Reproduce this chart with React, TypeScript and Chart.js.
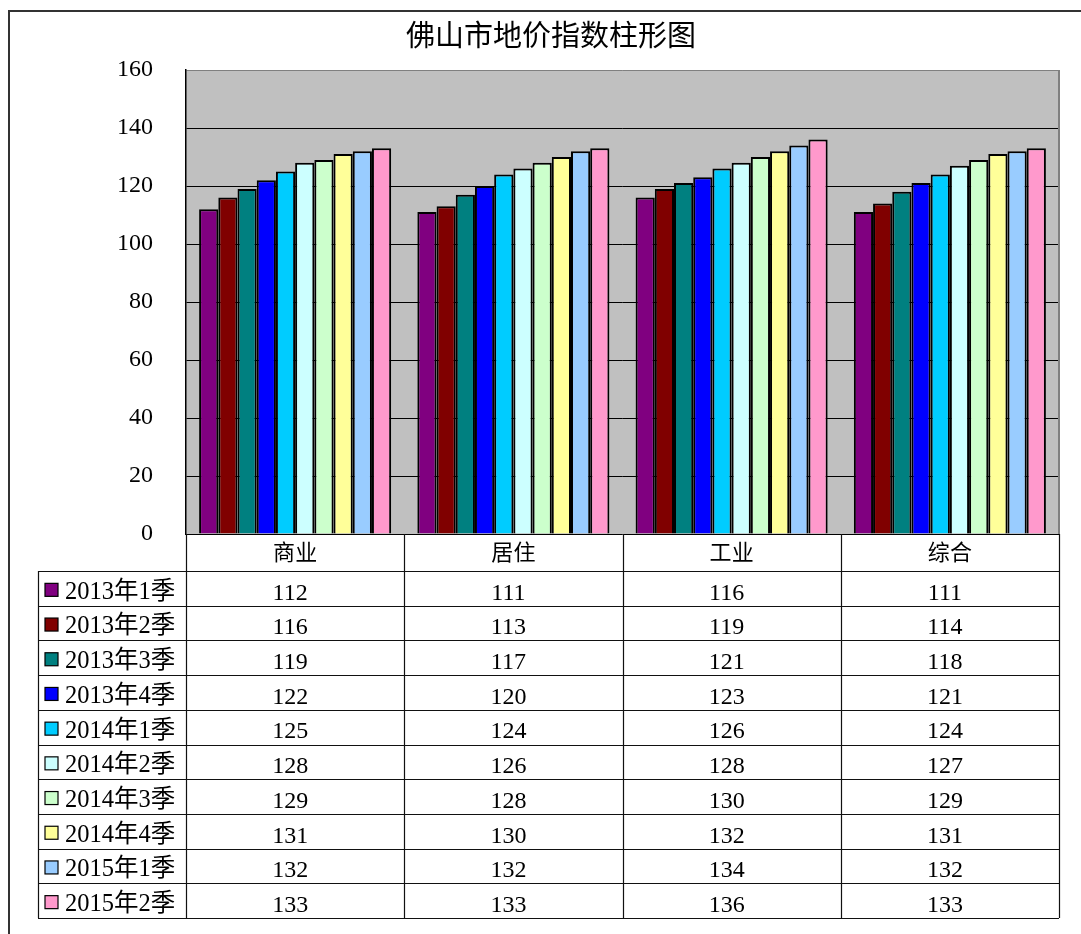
import { useEffect, useRef } from "react";
import { Chart, registerables } from "chart.js";

Chart.register(...registerables);

const title = "佛山市地价指数柱形图";
const categories = ["商业", "居住", "工业", "综合"];
const seriesNames = [
  "2013年1季",
  "2013年2季",
  "2013年3季",
  "2013年4季",
  "2014年1季",
  "2014年2季",
  "2014年3季",
  "2014年4季",
  "2015年1季",
  "2015年2季",
];
const q2013_1 = [112, 111, 116, 111];
const q2013_2 = [116, 113, 119, 114];
const q2013_3 = [119, 117, 121, 118];
const q2013_4 = [122, 120, 123, 121];
const q2014_1 = [125, 124, 126, 124];
const q2014_2 = [128, 126, 128, 127];
const q2014_3 = [129, 128, 130, 129];
const q2014_4 = [131, 130, 132, 131];
const q2015_1 = [132, 132, 134, 132];
const q2015_2 = [133, 133, 136, 133];
const seriesValues = [
  q2013_1, q2013_2, q2013_3, q2013_4, q2014_1,
  q2014_2, q2014_3, q2014_4, q2015_1, q2015_2,
];
const seriesColors = [
  "#800080", "#800000", "#008080", "#0000FF", "#00CCFF",
  "#CCFFFF", "#CCFFCC", "#FFFF99", "#99CCFF", "#FF99CC",
];
const yMin = 0;
const yMax = 160;
const yStep = 20;

const FONT = "'Liberation Serif', 'Noto Sans CJK SC', serif";

const tablePlugin = {
  id: "excelTable",
  beforeDraw(chart: any) {
    const { ctx, chartArea: ca } = chart;
    ctx.save();
    ctx.fillStyle = "#C0C0C0";
    ctx.fillRect(ca.left, ca.top, ca.right - ca.left, ca.bottom - ca.top);
    ctx.restore();
  },
  afterDraw(chart: any) {
    const { ctx, chartArea: ca } = chart;
    const xs = chart.scales.x;
    const n = categories.length;
    const catW = (ca.right - ca.left) / n;
    const headerTop = ca.bottom;
    const headerBottom = headerTop + 37;
    const rowH = 34.7;
    const tableLeft = 38;
    const rows = seriesNames.length;
    const tableBottom = headerBottom + rowH * rows;

    ctx.save();
    // title
    ctx.fillStyle = "#000";
    ctx.textAlign = "center";
    ctx.textBaseline = "middle";
    ctx.font = `29px ${FONT}`;
    ctx.fillText(title, 551, 38);

    // plot area right border
    ctx.strokeStyle = "#808080";
    ctx.lineWidth = 2;
    ctx.beginPath();
    ctx.moveTo(ca.right, ca.top);
    ctx.lineTo(ca.right, ca.bottom);
    ctx.stroke();

    // table lines
    ctx.strokeStyle = "#111";
    ctx.lineWidth = 1.2;
    ctx.beginPath();
    for (let r = 0; r <= rows; r++) {
      const y = Math.round(headerBottom + r * rowH) + 0.5;
      ctx.moveTo(tableLeft, y);
      ctx.lineTo(ca.right, y);
    }
    ctx.moveTo(tableLeft + 0.5, headerBottom);
    ctx.lineTo(tableLeft + 0.5, tableBottom);
    for (let i = 0; i <= n; i++) {
      const x = Math.round(ca.left + i * catW) + 0.5;
      ctx.moveTo(x, headerTop);
      ctx.lineTo(x, tableBottom);
    }
    ctx.stroke();

    ctx.fillStyle = "#000";
    ctx.textAlign = "center";
    ctx.font = `22px ${FONT}`;
    for (let i = 0; i < n; i++) {
      const cx = xs.getPixelForValue(i);
      ctx.fillText(categories[i], cx, (headerTop + headerBottom) / 2 + 2);
    }
    ctx.font = `24px ${FONT}`;
    for (let r = 0; r < rows; r++) {
      const cy = headerBottom + r * rowH + rowH / 2 + 5;
      for (let i = 0; i < n; i++) {
        const cx = xs.getPixelForValue(i) - 5;
        ctx.fillText(String(seriesValues[r][i]), cx, cy);
      }
    }
    // legend keys and labels
    ctx.textAlign = "left";
    ctx.font = `24.5px ${FONT}`;
    for (let r = 0; r < rows; r++) {
      const cy = headerBottom + r * rowH + rowH / 2;
      ctx.fillStyle = seriesColors[r];
      ctx.fillRect(45, cy - 5, 13, 13);
      ctx.strokeStyle = "#000";
      ctx.lineWidth = 1.2;
      ctx.strokeRect(45, cy - 5, 13, 13);
      ctx.fillStyle = "#000";
      ctx.fillText(seriesNames[r], 65, cy + 4);
    }

    // outer frame
    ctx.strokeStyle = "#333";
    ctx.lineWidth = 2;
    ctx.beginPath();
    ctx.moveTo(9, chart.height);
    ctx.lineTo(9, 11);
    ctx.lineTo(chart.width, 11);
    ctx.stroke();
    ctx.restore();
  },
};

export default function App() {
  const ref = useRef<HTMLCanvasElement | null>(null);
  useEffect(() => {
    if (!ref.current) return;
    const chart = new Chart(ref.current, {
      type: "bar",
      data: {
        labels: categories,
        datasets: seriesNames.map((name, i) => ({
          label: name,
          data: seriesValues[i],
          backgroundColor: seriesColors[i],
          borderColor: "#000",
          borderWidth: 2,
          categoryPercentage: 0.88,
          barPercentage: 1.0,
        })),
      },
      options: {
        responsive: false,
        animation: false,
        layout: { padding: { left: 0, right: 22, top: 70, bottom: 400 } },
        plugins: {
          legend: { display: false },
          tooltip: { enabled: false },
          title: { display: false },
        },
        scales: {
          x: { display: false },
          y: {
            min: yMin,
            max: yMax,
            ticks: {
              stepSize: yStep,
              color: "#000",
              padding: 33,
              font: { size: 24, family: FONT },
            },
            grid: {
              drawTicks: false,
              color: (c: any) => (c.tick && c.tick.value === yMax ? "#808080" : "#000"),
              lineWidth: 1,
            },
            border: { color: "#000", width: 1.5 },
            afterFit: (scale: any) => {
              scale.width = 186;
            },
          },
        },
      },
      plugins: [tablePlugin],
    });
    return () => chart.destroy();
  }, []);
  return (
    <div style={{ position: "absolute", left: 0, top: 0, width: 1081, height: 934, background: "#fff" }}>
      <canvas ref={ref} width={1081} height={934} style={{ width: 1081, height: 934, display: "block" }} />
    </div>
  );
}
